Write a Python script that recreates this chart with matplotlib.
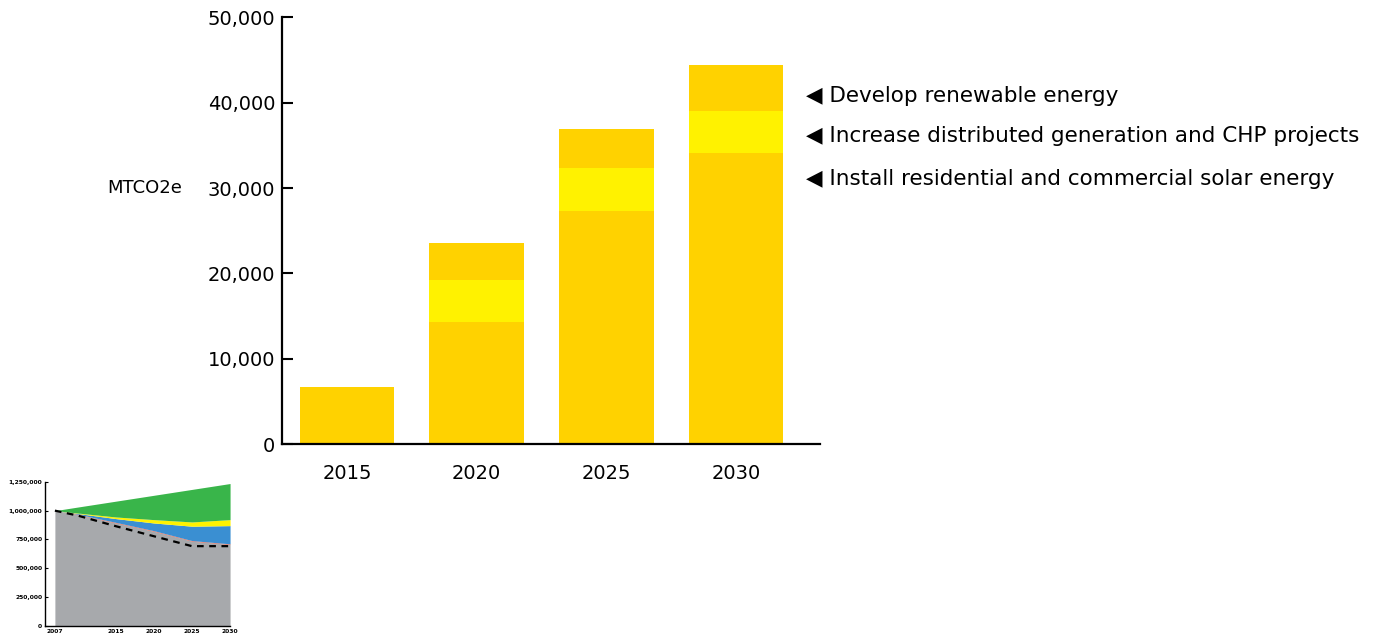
import matplotlib
matplotlib.use("Agg")
import matplotlib.pyplot as plt

plt.rcParams['font.family'] = ['DejaVu Sans']

# main chart data (MTCO2e)
categories = ["2015", "2020", "2025", "2030"]
solar = [6750, 14300, 27300, 34100]
chp = [0, 4900, 5050, 4900]
renewable = [0, 4400, 4600, 5400]
measure_labels = ["Develop renewable energy",
                  "Increase distributed generation and CHP projects",
                  "Install residential and commercial solar energy"]
y_ticks = [0, 10000, 20000, 30000, 40000, 50000]

# small inset data
inset_years = [2007, 2010, 2015, 2020, 2025, 2030]
bau_top = [1000000, 1031000, 1082000, 1133000, 1184000, 1235000]
yellow_top = [1000000, 979000, 945000, 922000, 902000, 922000]
blue_top = [1000000, 975000, 931000, 893000, 865000, 870000]
red_top = [1000000, 969000, 898000, 826000, 740000, 712000]
gray_top = [1000000, 965000, 893000, 821000, 735000, 707000]
target = [1000000, 957000, 865000, 778000, 692000, 692000]
inset_yticks = [0, 250000, 500000, 750000, 1000000, 1250000]
inset_xticks = [2007, 2015, 2020, 2025, 2030]

GOLD = "#FFD200"
YELLOW = "#FFF200"

fig = plt.figure(figsize=(13.76, 6.4), dpi=100)

# ---- main stacked bars ----
ax = fig.add_axes([0.205, 0.306, 0.391, 0.667])
x = range(len(categories))
bottom2 = [a + b for a, b in zip(solar, chp)]
ax.bar(x, solar, width=0.73, color=GOLD, linewidth=0)
ax.bar(x, chp, width=0.73, bottom=solar, color=YELLOW, linewidth=0)
ax.bar(x, renewable, width=0.73, bottom=bottom2, color=GOLD, linewidth=0)

ax.set_xlim(-0.5, 3.65)
ax.set_ylim(0, 50000)
ax.set_yticks(y_ticks)
ax.set_yticklabels([f"{v:,}" for v in y_ticks], fontsize=14)
ax.set_xticks(list(x))
ax.set_xticklabels(categories, fontsize=14)
ax.tick_params(axis="y", direction="in", length=8, width=1.5, pad=5)
ax.tick_params(axis="x", length=0, pad=14)
for s in ["top", "right"]:
    ax.spines[s].set_visible(False)
for s in ["left", "bottom"]:
    ax.spines[s].set_linewidth(1.6)

ax.set_ylabel("MTCO2e", rotation=0, fontsize=13, ha="right", va="center")
ax.yaxis.set_label_coords(-0.186, 0.6)

label_y = [40800, 36100, 31100]
for lab, yv in zip(measure_labels, label_y):
    ax.annotate("◀ " + lab, xy=(1.0, yv), xycoords=("axes fraction", "data"),
                xytext=(-10, 0), textcoords="offset points",
                ha="left", va="center", fontsize=15.5, annotation_clip=False)

# ---- inset area chart ----
ax2 = fig.add_axes([0.0327, 0.0219, 0.1345, 0.2253])
ax2.fill_between(inset_years, 0, gray_top, color="#A7A9AC", linewidth=0)
ax2.fill_between(inset_years, gray_top, red_top, color="#E8563F", linewidth=0)
ax2.fill_between(inset_years, red_top, blue_top, color="#3A8FD2", linewidth=0)
ax2.fill_between(inset_years, blue_top, yellow_top, color="#FFF200", linewidth=0)
ax2.fill_between(inset_years, yellow_top, bau_top, color="#39B54A", linewidth=0)
ax2.plot(inset_years, target, color="black", linewidth=1.6, dashes=(3, 2.5))

ax2.set_xlim(2005.7, 2030)
ax2.set_ylim(0, 1250000)
ax2.set_yticks(inset_yticks)
ax2.set_yticklabels([f"{v:,}" for v in inset_yticks], fontsize=4.3, fontweight="bold")
ax2.set_xticks(inset_xticks)
ax2.set_xticklabels([str(v) for v in inset_xticks], fontsize=4.3, fontweight="bold")
ax2.tick_params(axis="y", direction="in", length=2.5, width=0.8, pad=2)
ax2.tick_params(axis="x", length=0, pad=2)
for s in ["top", "right"]:
    ax2.spines[s].set_visible(False)
for s in ["left", "bottom"]:
    ax2.spines[s].set_linewidth(1.0)

fig.savefig("out.png", dpi=100)
